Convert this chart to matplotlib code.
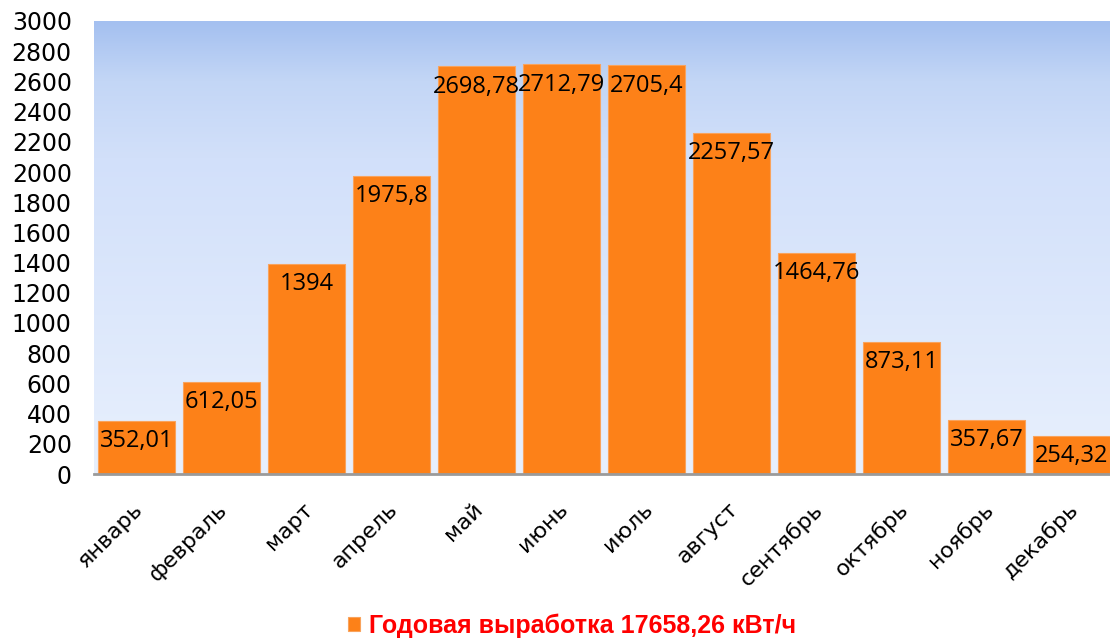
import numpy as np
import matplotlib.pyplot as plt
import matplotlib.transforms as mtransforms
from matplotlib.colors import LinearSegmentedColormap

# Données : production mensuelle (kWh)
months = ['январь', 'февраль', 'март', 'апрель', 'май', 'июнь',
          'июль', 'август', 'сентябрь', 'октябрь', 'ноябрь', 'декабрь']
values = [352.01, 612.05, 1394, 1975.8, 2698.78, 2712.79,
          2705.4, 2257.57, 1464.76, 873.11, 357.67, 254.32]
value_labels = ['352,01', '612,05', '1394', '1975,8', '2698,78', '2712,79',
                '2705,4', '2257,57', '1464,76', '873,11', '357,67', '254,32']
yticks = list(range(0, 3001, 200))
legend_label = 'Годовая выработка 17658,26 кВт/ч'

bar_color = '#FD8118'

fig = plt.figure(figsize=(11.1, 6.41), dpi=100)
ax = fig.add_axes([94 / 1110, 1 - 474 / 641, 1020 / 1110, 453 / 641])

# fond dégradé bleu
grad_cmap = LinearSegmentedColormap.from_list(
    'bg', [(0.0, '#A4C0F0'), (0.13, '#C3D6F6'), (0.3, '#D2E0FA'), (1.0, '#E8F0FD')])
grad = np.linspace(0, 1, 256).reshape(-1, 1)
ax.imshow(grad, cmap=grad_cmap, aspect='auto', extent=[0, 1, 0, 1],
          transform=ax.transAxes, zorder=0)

x = np.arange(len(months))
bars = ax.bar(x, values, width=0.9, color=bar_color, edgecolor='#F9A35C',
              linewidth=0.8, zorder=2, label=legend_label)

# étiquettes de valeurs dans les barres
for xi, v, lab in zip(x, values, value_labels):
    ax.annotate(lab, (xi, v), xytext=(0, -14.5), textcoords='offset points',
                ha='center', va='center', fontsize=17, family='Open Sans',
                color='black', zorder=4)

ax.set_xlim(-0.5, len(months) - 0.5)
ax.set_ylim(0, 3000)
ax.set_yticks(yticks)
ax.set_yticklabels([str(t) for t in yticks], fontsize=17, family='DejaVu Sans')
ax.tick_params(axis='y', length=0, pad=16)

ax.set_xticks(x)
ax.set_xticklabels(months, rotation=45, ha='right', va='top',
                   rotation_mode='anchor', fontsize=16, family='DejaVu Sans')
ax.tick_params(axis='x', length=0, pad=18)
offset = mtransforms.ScaledTranslation(-4 / 100, 0, fig.dpi_scale_trans)
for lbl in ax.get_xticklabels():
    lbl.set_transform(lbl.get_transform() + offset)

for s in ['top', 'right', 'left']:
    ax.spines[s].set_visible(False)
ax.spines['bottom'].set_color('#9A9A9A')
ax.spines['bottom'].set_linewidth(2)
ax.spines['bottom'].set_zorder(5)

leg = fig.legend(handles=[bars], labels=[legend_label], loc='center',
                 bbox_to_anchor=(572 / 1110, 1 - 626 / 641), frameon=False,
                 handlelength=0.5, handleheight=0.5, handletextpad=0.35,
                 prop={'family': 'Liberation Sans', 'weight': 'bold', 'size': 18})
for t in leg.get_texts():
    t.set_color('#FF0000')

fig.savefig('out.png', dpi=100)
